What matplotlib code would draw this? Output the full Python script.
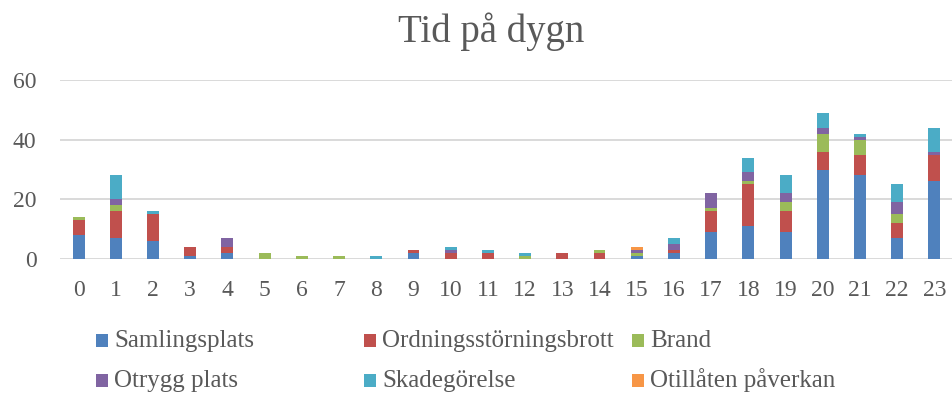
import matplotlib
matplotlib.use('Agg')
import matplotlib.pyplot as plt
from matplotlib.patches import Rectangle
import numpy as np

hours = [str(h) for h in range(24)]

series_names = ['Samlingsplats', 'Ordningsstörningsbrott', 'Brand',
                'Otrygg plats', 'Skadegörelse', 'Otillåten påverkan']
colors = ['#4F81BD', '#C0504D', '#9BBB59', '#8064A2', '#4BACC6', '#F79646']

samlingsplats = [8, 7, 6, 1, 2, 0, 0, 0, 0, 2, 0, 0, 0, 0, 0, 1, 2, 9, 11, 9, 30, 28, 7, 26]
ordning = [5, 9, 9, 3, 2, 0, 0, 0, 0, 1, 2, 2, 0, 2, 2, 0, 1, 7, 14, 7, 6, 7, 5, 9]
brand = [1, 2, 0, 0, 0, 2, 1, 1, 0, 0, 0, 0, 1, 0, 1, 1, 0, 1, 1, 3, 6, 5, 3, 0]
otrygg = [0, 2, 0, 0, 3, 0, 0, 0, 0, 0, 1, 0, 0, 0, 0, 1, 2, 5, 3, 3, 2, 1, 4, 1]
skadegorelse = [0, 8, 1, 0, 0, 0, 0, 0, 1, 0, 1, 1, 1, 0, 0, 0, 2, 0, 5, 6, 5, 1, 6, 8]
otillaten = [0, 0, 0, 0, 0, 0, 0, 0, 0, 0, 0, 0, 0, 0, 0, 1, 0, 0, 0, 0, 0, 0, 0, 0]

series = [samlingsplats, ordning, brand, otrygg, skadegorelse, otillaten]

plt.rcParams['font.family'] = ['Liberation Serif', 'DejaVu Serif']
text_col = '#595959'
grid_col = '#D9D9D9'

fig = plt.figure(figsize=(9.53, 3.94), dpi=100)
fig.patch.set_facecolor('white')
ax = fig.add_axes([60 / 953, 135 / 394, 893 / 953, 179 / 394])

x = np.arange(len(hours))
bottom = np.zeros(len(hours))
for vals, col in zip(series, colors):
    vals = np.array(vals, dtype=float)
    ax.bar(x, vals, width=0.32, bottom=bottom, color=col, linewidth=0, zorder=3)
    bottom += vals

ax.set_xlim(-0.5, len(hours) - 0.5)
ax.set_ylim(0, 60)
ax.set_yticks([0, 20, 40, 60])
ax.set_xticks(x)
ax.set_xticklabels(hours)
ax.yaxis.grid(True, color=grid_col, linewidth=1.4, zorder=0)
ax.set_axisbelow(True)
for s in ax.spines.values():
    s.set_visible(False)
ax.tick_params(axis='both', length=0, labelsize=17, colors=text_col)
ax.tick_params(axis='y', pad=17)
ax.tick_params(axis='x', pad=15)

# Title
fig.text(491 / 953, 1 - 42 / 394, 'Tid på dygn', fontsize=28,
         color=text_col, ha='center', va='baseline')

# Legend, laid out row by row in three equal columns
col_x = [96, 364, 632]
row_base = [347, 387]
for i, (name, col) in enumerate(zip(series_names, colors)):
    r, c = divmod(i, 3)
    mx = col_x[c]
    my = row_base[r]
    fig.patches.append(Rectangle((mx / 953, 1 - my / 394), 12 / 953, 13 / 394,
                                 transform=fig.transFigure, facecolor=col,
                                 edgecolor='none'))
    fig.text((mx + 18) / 953, 1 - my / 394, name, fontsize=18,
             color=text_col, ha='left', va='baseline')

fig.savefig('out.png', dpi=100, facecolor='white')
